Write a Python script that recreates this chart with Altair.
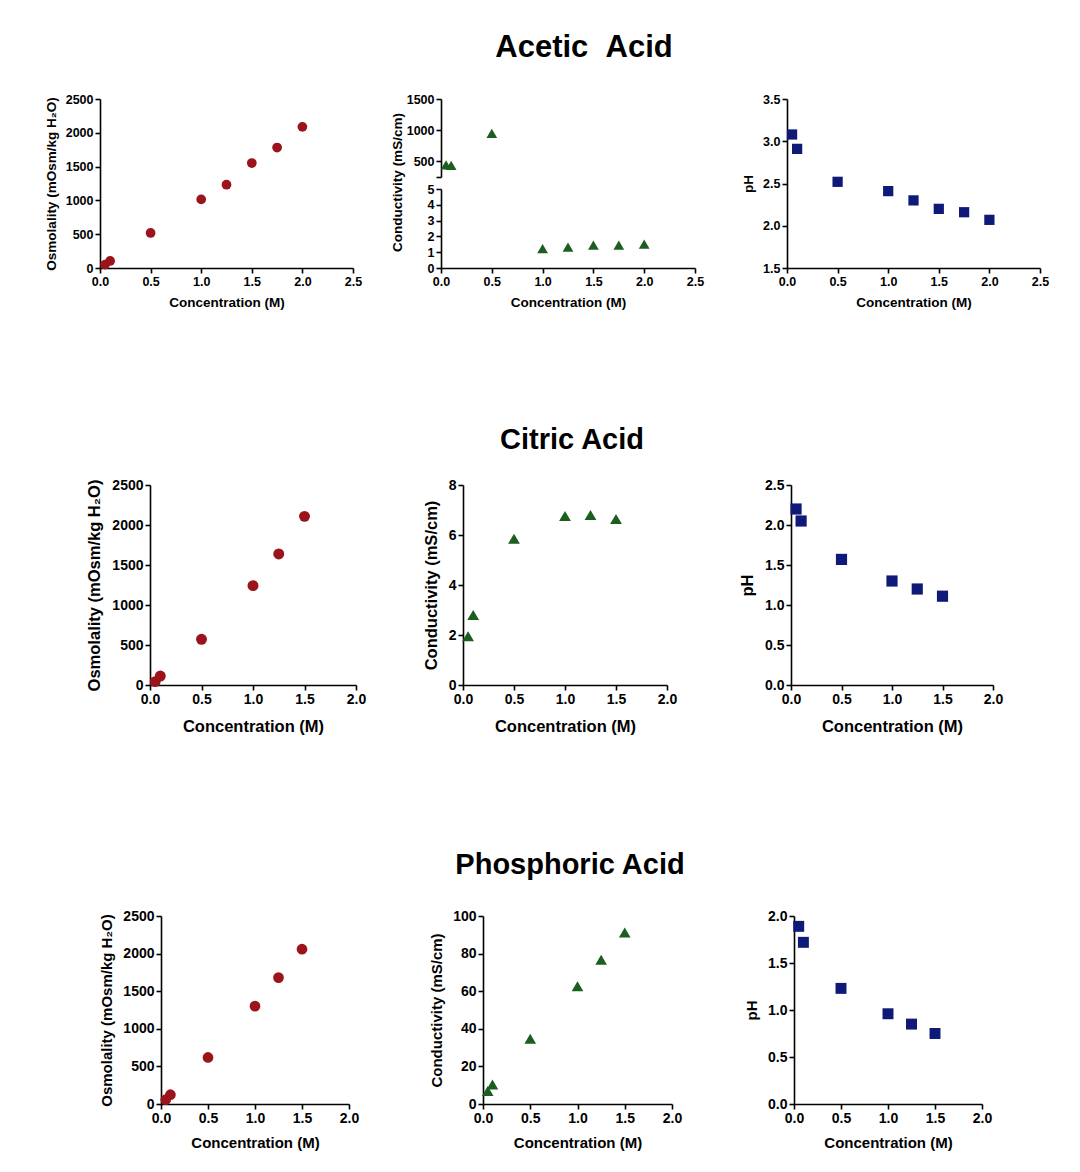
import altair as alt
import pandas as pd

FONT = "Liberation Sans"
RED = "#9b141b"
GREEN = "#1b5e20"
NAVY = "#0f1a78"
W, H = 1080, 1172

# ---------------- data ----------------
acetic_conc = [0.05, 0.1, 0.5, 1.0, 1.25, 1.5, 1.75, 2.0]
acetic_osm = [50, 104, 518, 1015, 1232, 1553, 1782, 2088]
acetic_cond = [445, 435, 950, 1.23, 1.32, 1.45, 1.45, 1.51]
acetic_ph = [3.08, 2.91, 2.52, 2.41, 2.30, 2.20, 2.16, 2.07]

citric_conc = [0.05, 0.1, 0.5, 1.0, 1.25, 1.5]
citric_osm = [42, 112, 571, 1242, 1638, 2108]
citric_cond = [1.95, 2.80, 5.85, 6.76, 6.80, 6.64]
citric_ph = [2.20, 2.05, 1.57, 1.30, 1.20, 1.11]

phos_conc = [0.05, 0.1, 0.5, 1.0, 1.25, 1.5]
phos_osm = [57, 124, 619, 1301, 1681, 2058]
phos_cond = [6.9, 10.4, 34.7, 62.6, 76.7, 91.2]
phos_ph = [1.89, 1.72, 1.23, 0.96, 0.85, 0.75]

titles = ["Acetic \u00a0Acid", "Citric Acid", "Phosphoric Acid"]
x_title = "Concentration (M)"
osm_title = "Osmolality (mOsm/kg H₂O)"
cond_title = "Conductivity (mS/cm)"
ph_title = "pH"

x_ticks_25 = [0.0, 0.5, 1.0, 1.5, 2.0, 2.5]
x_ticks_20 = [0.0, 0.5, 1.0, 1.5, 2.0]
osm_ticks = [0, 500, 1000, 1500, 2000, 2500]


def axis(values, fmt, title, fs_label, fs_title, tpad, **kw):
    args = dict(values=values, format=fmt, title=title, grid=False,
                domainColor="black", domainWidth=1.6, tickColor="black",
                tickWidth=1.6, tickSize=5, labelFont=FONT, labelFontSize=fs_label,
                labelFontWeight="bold", labelColor="black", labelPadding=2,
                labelOverlap=False, labelFlush=False,
                titleFont=FONT, titleFontSize=fs_title, titleFontWeight="bold",
                titleColor="black", titlePadding=tpad)
    args.update(kw)
    return alt.Axis(**args)


def panel(xs, ys, color, shape, size, xr, yr, xmax, xticks, ydom, yticks, yfmt,
          ytitle, fl, ft, xtp, ytp, yfilter=None, show_x=True, yaxis_extra=None):
    df = pd.DataFrame({"c": xs, "v": ys})
    base = alt.Chart(df)
    if yfilter:
        base = base.transform_filter(yfilter)
    x0, x1 = xr
    ytop, ybot = yr
    xaxis = axis(xticks, ".1f", x_title, fl, ft, xtp, orient="bottom",
                 offset=ybot - H) if show_x else None
    ykw = dict(orient="left", offset=-x0)
    if yaxis_extra:
        ykw.update(yaxis_extra)
    return base.mark_point(filled=True, shape=shape, size=size,
                           color=color, opacity=1).encode(
        x=alt.X("c:Q", scale=alt.Scale(domain=[0, xmax], range=[x0, x1], nice=False),
                axis=xaxis),
        y=alt.Y("v:Q", scale=alt.Scale(domain=ydom, range=[ybot, ytop], nice=False,
                                       zero=False),
                axis=axis(yticks, yfmt, ytitle, fl, ft, ytp, **ykw)),
    )


def title_layer(text, cx, cy, size):
    return alt.Chart(pd.DataFrame({"t": [text]})).mark_text(
        font=FONT, fontSize=size, fontWeight="bold", align="center",
        baseline="middle", color="black"
    ).encode(x=alt.value(cx), y=alt.value(cy), text="t:N")


layers = []

# ---------------- row 1: acetic ----------------
FL1, FT1 = 12.5, 13.5
R1 = (99, 268)
layers.append(panel(acetic_conc, acetic_osm, RED, "circle", 95, (100, 353), R1, 2.5,
                    x_ticks_25, [0, 2500], osm_ticks, "d", osm_title,
                    FL1, FT1, 8, 7))
layers.append(panel(acetic_conc, acetic_cond, GREEN, "triangle-up", 115, (441, 695),
                    (99, 177), 2.5, x_ticks_25, [250, 1500], [250, 500, 1000, 1500],
                    "d", None, FL1, FT1, 8, 4, yfilter="datum.v >= 250", show_x=False,
                    yaxis_extra=dict(labelExpr="datum.value == 250 ? '' : datum.label")))
layers.append(panel(acetic_conc, acetic_cond, GREEN, "triangle-up", 115, (441, 695),
                    (189, 268), 2.5, x_ticks_25, [0, 5], [0, 1, 2, 3, 4, 5],
                    "d", cond_title, FL1, FT1, 8, 4, yfilter="datum.v <= 5",
                    yaxis_extra=dict(titleX=-37, titleY=182)))
layers.append(panel(acetic_conc, acetic_ph, NAVY, "square", 105, (787, 1040), R1, 2.5,
                    x_ticks_25, [1.5, 3.5], [1.5, 2.0, 2.5, 3.0, 3.5], ".1f", ph_title,
                    FL1, FT1, 8, 7))

# ---------------- row 2: citric ----------------
FL2, FT2 = 14, 16.5
R2 = (485, 685)
layers.append(panel(citric_conc, citric_osm, RED, "circle", 120, (150, 356), R2, 2.0,
                    x_ticks_20, [0, 2500], osm_ticks, "d", osm_title,
                    FL2, FT2, 12, 9))
layers.append(panel(citric_conc, citric_cond, GREEN, "triangle-up", 140, (463, 667), R2,
                    2.0, x_ticks_20, [0, 8], [0, 2, 4, 6, 8], "d", cond_title,
                    FL2, FT2, 12, 9))
layers.append(panel(citric_conc, citric_ph, NAVY, "square", 125, (791, 993), R2, 2.0,
                    x_ticks_20, [0, 2.5], [0, 0.5, 1.0, 1.5, 2.0, 2.5], ".1f", ph_title,
                    FL2, FT2, 12, 9))

# ---------------- row 3: phosphoric ----------------
FL3, FT3 = 14, 15
R3 = (916, 1104)
layers.append(panel(phos_conc, phos_osm, RED, "circle", 115, (161, 349), R3, 2.0,
                    x_ticks_20, [0, 2500], osm_ticks, "d", osm_title,
                    FL3, FT3, 10, 8))
layers.append(panel(phos_conc, phos_cond, GREEN, "triangle-up", 135, (483, 672), R3,
                    2.0, x_ticks_20, [0, 100], [0, 20, 40, 60, 80, 100], "d", cond_title,
                    FL3, FT3, 10, 8))
layers.append(panel(phos_conc, phos_ph, NAVY, "square", 120, (794, 982), R3, 2.0,
                    x_ticks_20, [0, 2.0], [0, 0.5, 1.0, 1.5, 2.0], ".1f", ph_title,
                    FL3, FT3, 10, 8))

# ---------------- titles ----------------
layers.append(title_layer(titles[0], 584, 48, 31))
layers.append(title_layer(titles[1], 572, 440, 29))
layers.append(title_layer(titles[2], 570, 865, 29))

chart = alt.layer(*layers).resolve_scale(x="independent", y="independent").resolve_axis(
    x="independent", y="independent").properties(
    width=W, height=H, padding=0, background="white",
    autosize=alt.AutoSizeParams(type="none")).configure_view(stroke=None)

chart.save("out.html", embed_options={"renderer": "svg", "actions": False})
